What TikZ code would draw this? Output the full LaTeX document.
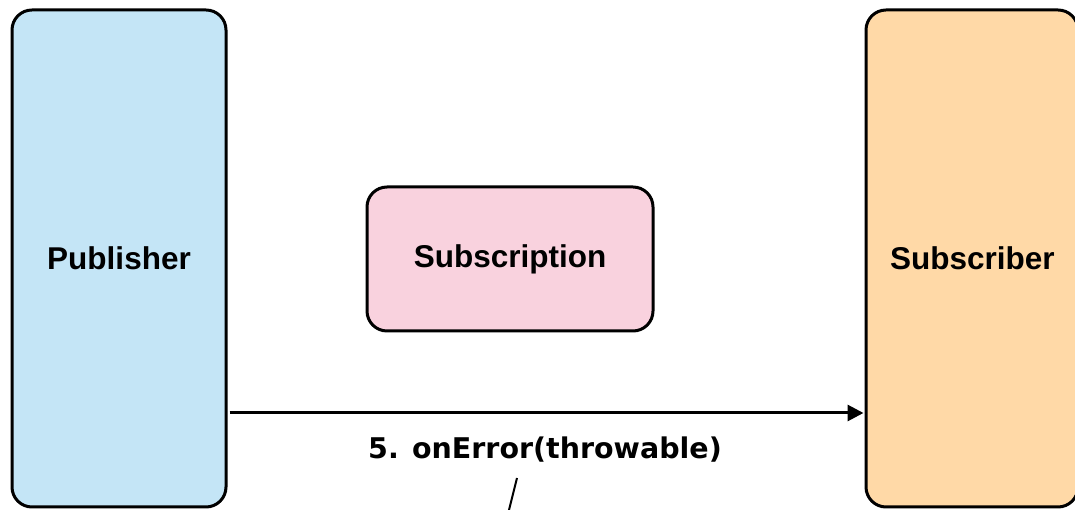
\documentclass[tikz,border=0pt]{standalone}
\usepackage{fontspec}
\setmainfont{Liberation Sans}
\newfontfamily\labelfont{DejaVu Sans}
\usetikzlibrary{arrows.meta}
\definecolor{pubfill}{HTML}{C4E5F6}
\definecolor{subfill}{HTML}{F9D2DE}
\definecolor{scbfill}{HTML}{FFD9A7}
\tikzset{
  actor/.style={draw=black, line width=3pt, rounded corners=20pt, inner sep=0pt,
    font=\fontsize{31.5}{36}\selectfont\bfseries},
  flow/.style={line width=3pt, -{Triangle[length=16pt,width=16pt]}},
  flowlabel/.style={font=\labelfont\fontsize{28.5}{32}\selectfont\bfseries, inner sep=0pt},
}
\begin{document}
\begin{tikzpicture}[x=1pt,y=1pt]
  \useasboundingbox (0,0) rectangle (1075,510);
  % participants
  \node[actor, fill=pubfill, minimum width=214pt, minimum height=497pt] (pub) at (119,251.5) {Publisher};
  \node[actor, fill=scbfill, minimum width=212pt, minimum height=497pt, text width=212pt, align=left] (scb) at (972,251.5) {\hspace*{24pt}Subscriber};
  \node[actor, fill=subfill, minimum width=286pt, minimum height=144pt] (sub) at (510,251) {Subscription};
  % error signal
  \coordinate (from) at (pub.east |- 0,97);
  \coordinate (to) at (scb.west |- 0,97);
  \draw[flow] ([xshift=2pt]from) -- ([xshift=-1pt]to);
  \node[flowlabel] (lbl) at (545,60) {5. onError(throwable)};
  % stray line below the label
  \coordinate (s1) at (517,32);
  \coordinate (s2) at (508,-4);
  \draw[line width=2pt] (s1) -- (s2);
\end{tikzpicture}
\end{document}
